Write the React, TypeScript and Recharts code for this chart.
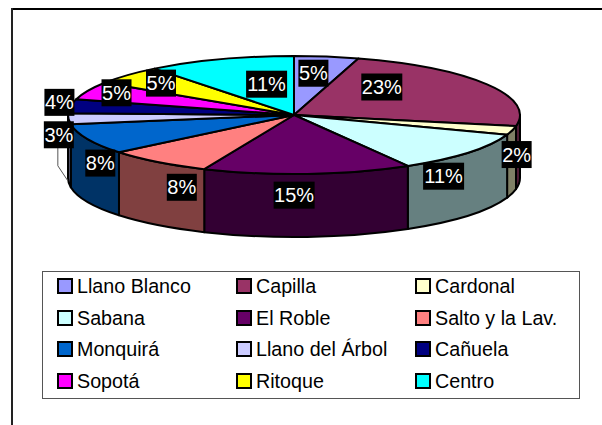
import { PieChart, Pie, Legend } from 'recharts'

const names = ['Llano Blanco', 'Capilla', 'Cardonal', 'Sabana', 'El Roble', 'Salto y la Lav.', 'Monquirá', 'Llano del Árbol', 'Cañuela', 'Sopotá', 'Ritoque', 'Centro']
const shares = [4.6, 23.4, 2.4, 11.2, 14.9, 7.6, 8.4, 3, 3.8, 4.9, 5.2, 10.6]
const topColors = ['#9999FF', '#993366', '#FFFFCC', '#CCFFFF', '#660066', '#FF8080', '#0066CC', '#CCCCFF', '#000080', '#FF00FF', '#FFFF00', '#00FFFF']
const wallColors = ['#4D4D80', '#4D1A33', '#808066', '#668080', '#330033', '#804040', '#003366', '#666680', '#000040', '#800080', '#808000', '#008080']

// label shift from the slice's 3/4 radius point, px
const labelNudges = [[-5, 2], [-57, -5], [59, 28], [19, 33], [-10, 36], [-10, 37], [-39, 30], [-66, 17], [-67, -6], [-23, -4], [-8, -2], [28, 11]]

const data = names.map((name, i) => ({ name, value: shares[i], fill: topColors[i] }))

const FONT = '"Liberation Sans", Arial, sans-serif'
const TILT = 0.261
const DEPTH = 63
const rad = (d: number) => (d * Math.PI) / 180

// clockwise degrees from 12 o'clock -> point on the flattened rim
const rim = (cx: number, cy: number, r: number, t: number) => [
  cx + r * Math.sin(rad(t)),
  cy - r * TILT * Math.cos(rad(t)),
]

function Slice3D(props: any) {
  const { cx, cy, outerRadius: r, startAngle, endAngle, fill, index } = props
  const t0 = 90 - startAngle
  const t1 = 90 - endAngle
  const ry = r * TILT
  const [x0, y0] = rim(cx, cy, r, t0)
  const [x1, y1] = rim(cx, cy, r, t1)
  const large = t1 - t0 > 180 ? 1 : 0
  const top = `M${cx},${cy} L${x0},${y0} A${r},${ry} 0 ${large} 1 ${x1},${y1} Z`

  // only the front half of the rim shows a wall
  const w0 = Math.max(t0, 90)
  const w1 = Math.min(t1, 270)
  let wall = null
  if (w1 > w0) {
    const [ax, ay] = rim(cx, cy, r, w0)
    const [bx, by] = rim(cx, cy, r, w1)
    wall = (
      <path
        d={`M${ax},${ay} A${r},${ry} 0 0 1 ${bx},${by} L${bx},${by + DEPTH} A${r},${ry} 0 0 0 ${ax},${ay + DEPTH} Z`}
        fill={wallColors[index]}
        stroke="#000"
        strokeWidth={2}
        strokeLinejoin="round"
      />
    )
  }
  return (
    <g>
      {wall}
      <path d={top} fill={fill} stroke="#000" strokeWidth={2} strokeLinejoin="round" />
    </g>
  )
}

function PercentLabel(props: any) {
  const { cx, cy, outerRadius, midAngle, percent, index } = props
  const [ax, ay] = rim(cx, cy, outerRadius * 0.75, 90 - midAngle)
  const x = ax + labelNudges[index][0]
  const y = ay + labelNudges[index][1]
  const text = `${Math.round(percent * 100)}%`
  const w = text.length === 2 ? 30 : 41
  return (
    <g>
      {index === 7 && (
        <polyline points={`${x - 1},${y + 13} ${x - 1},${y + 31} ${x + 9},${y + 46}`} fill="none" stroke="#555" strokeWidth={1} />
      )}
      <rect x={x - w / 2} y={y - 13.5} width={w} height={27} fill="#000" />
      <text x={x} y={y + 7} textAnchor="middle" fontFamily={FONT} fontSize={20} fill="#fff">
        {text}
      </text>
    </g>
  )
}

function LegendBox({ payload }: any) {
  return (
    <div
      style={{
        position: 'absolute',
        left: 42,
        top: 271,
        width: 536,
        height: 126,
        border: '1.5px solid #555',
        fontFamily: FONT,
        fontSize: 19.7,
        color: '#000',
      }}
    >
      {(payload ?? []).map((item: any, i: number) => (
        <div
          key={item.value}
          style={{
            position: 'absolute',
            left: 14 + (i % 3) * 179,
            top: Math.floor(i / 3) * 31.6 - 1,
            height: 30,
            lineHeight: '30px',
            whiteSpace: 'nowrap',
          }}
        >
          <span
            style={{
              position: 'absolute',
              left: 0,
              top: 7,
              width: 12,
              height: 12,
              border: '2px solid #000',
              background: item.color,
            }}
          />
          <span style={{ position: 'absolute', left: 20, top: 0 }}>{item.value}</span>
        </div>
      ))}
    </div>
  )
}

export default function App() {
  return (
    <div style={{ position: 'absolute', left: 0, top: 0, width: 602, height: 425, background: '#fff', overflow: 'hidden' }}>
      <div style={{ position: 'absolute', left: 11, top: 8, width: 591, height: 2, background: '#000' }} />
      <div style={{ position: 'absolute', left: 11, top: 8, width: 2, height: 417, background: '#222' }} />
      <PieChart width={602} height={425} margin={{ top: 0, right: 0, bottom: 0, left: 0 }} style={{ position: 'absolute', left: 0, top: 0 }}>
        <Pie
          data={data}
          dataKey="value"
          nameKey="name"
          cx={294}
          cy={115}
          outerRadius={226}
          startAngle={90}
          endAngle={-270}
          shape={Slice3D}
          label={PercentLabel}
          labelLine={false}
          isAnimationActive={false}
        />
        <Legend content={LegendBox} itemSorter={null} wrapperStyle={{ position: 'absolute', left: 0, top: 0, width: 602, height: 425 }} />
      </PieChart>
    </div>
  )
}
